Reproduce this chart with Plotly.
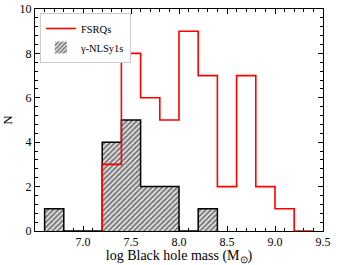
import plotly.graph_objects as go

# Histogram data (bin width 0.2 in log M_BH)
fsrq_left_edges = [7.2, 7.4, 7.6, 7.8, 8.0, 8.2, 8.4, 8.6, 8.8, 9.0, 9.2]
fsrq_counts = [3, 8, 6, 5, 9, 7, 2, 7, 2, 1, 0]

nlsy1_left_edges = [6.6, 6.8, 7.0, 7.2, 7.4, 7.6, 7.8, 8.0, 8.2]
nlsy1_counts = [1, 0, 0, 4, 5, 2, 2, 0, 1]

bin_width = 0.2
x_ticks = [7.0, 7.5, 8.0, 8.5, 9.0, 9.5]
y_ticks = [0, 2, 4, 6, 8, 10]

FONT = "Liberation Serif"


def step_path(left_edges, counts, width):
    right = left_edges[-1] + width
    xs = [left_edges[0]] + list(left_edges) + [right, right]
    ys = [0] + list(counts) + [counts[-1], 0]
    return xs, ys


fig = go.Figure()

# gamma-NLSy1s hatched fill (no inner edges)
centers = [e + bin_width / 2 for e in nlsy1_left_edges]
fig.add_trace(go.Bar(
    x=centers, y=nlsy1_counts, width=bin_width,
    name="γ-NLSy1s",
    marker=dict(color="white",
                line=dict(color="black", width=0),
                pattern=dict(shape="/", fgcolor="black", bgcolor="white",
                             size=3.6, solidity=0.65, fillmode="overlay")),
    showlegend=True,
))
# gamma-NLSy1s outline
nx, ny = step_path(nlsy1_left_edges, nlsy1_counts, bin_width)
fig.add_trace(go.Scatter(
    x=nx, y=ny, mode="lines", line=dict(color="black", width=1.5, shape="hv"),
    showlegend=False, cliponaxis=False, hoverinfo="skip",
))

# FSRQs step outline
fx, fy = step_path(fsrq_left_edges, fsrq_counts, bin_width)
fig.add_trace(go.Scatter(
    x=fx, y=fy, mode="lines", line=dict(color="#ff0000", width=1.6, shape="hv"),
    name="FSRQs", cliponaxis=False,
))

axis_common = dict(
    showline=True, linecolor="black", linewidth=1, mirror="ticks",
    ticks="inside", ticklen=5, tickwidth=1, tickcolor="black",
    showgrid=False, zeroline=False, automargin=False,
    tickfont=dict(family=FONT, size=12, color="black"),
    layer="below traces",
)

fig.update_layout(
    width=337, height=265,
    margin=dict(l=35, r=14, t=9, b=34, pad=0),
    plot_bgcolor="white", paper_bgcolor="white",
    barmode="overlay", bargap=0,
    showlegend=True,
    legend=dict(x=0.017, y=0.982, xanchor="left", yanchor="top",
                bgcolor="white", bordercolor="#cccccc", borderwidth=1,
                font=dict(family=FONT, size=10.5, color="black"),
                traceorder="reversed", itemwidth=30,
                tracegroupgap=0),
    xaxis=dict(range=[6.5, 9.5], tickvals=x_ticks,
               ticktext=[f"{v:.1f}" for v in x_ticks],
               minor=dict(ticks="inside", dtick=0.1, tick0=6.5, ticklen=3,
                          tickcolor="black", showgrid=False),
               title=dict(text="log Black hole mass (M<sub>⊙</sub>)",
                          font=dict(family=FONT, size=14, color="black"),
                          standoff=1),
               **axis_common),
    yaxis=dict(range=[0, 10], tickvals=y_ticks,
               minor=dict(ticks="inside", dtick=0.4, tick0=0, ticklen=3,
                          tickcolor="black", showgrid=False),
               title=dict(text="N", font=dict(family=FONT, size=13, color="black"),
                          standoff=6),
               **axis_common),
)

fig.write_html(
    "out.html",
    config={"displayModeBar": False},
    post_script="document.body.style.margin='0';document.body.style.padding='0';",
)
